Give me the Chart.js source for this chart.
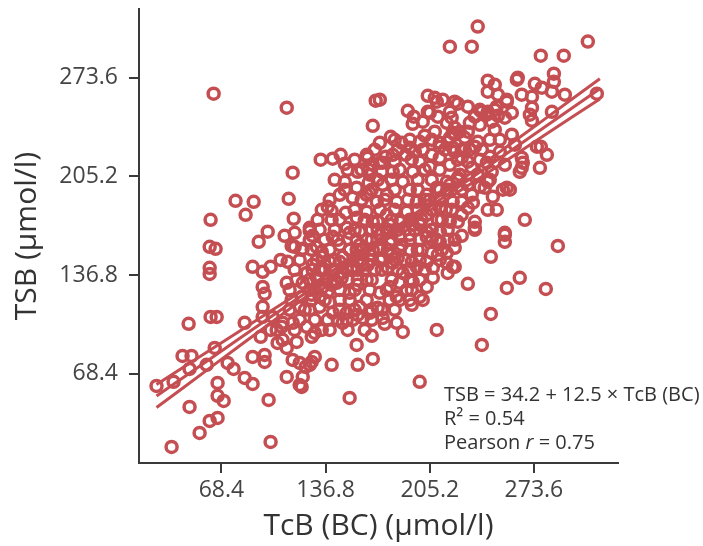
<!DOCTYPE html>
<html>
<head>
<meta charset="utf-8">
<script src="https://cdn.jsdelivr.net/npm/chart.js@4.4.1/dist/chart.umd.min.js"></script>
<style>
  html, body { margin: 0; padding: 0; background: #ffffff; }
  #wrap { width: 703px; height: 546px; }
</style>
</head>
<body>
<div id="wrap"><canvas id="c" width="703" height="546"></canvas></div>
<script>
// ---- data (µmol/l) ----
const tcb = [236.7,218.4,232.8,309.0,278.1,293.2,63.3,111.3,169.7,167.8,172.4,179.6,186.8,190.8,194.7,194.0,200.6,203.9,203.9,201.9,
133.6,141.5,146.7,149.4,115.2,77.7,89.6,84.3,112.6,61.3,115.9,98.8,92.9,109.9,116.5,126.4,128.3,138.2,140.8,140.8,
150.0,164.5,165.1,176.3,174.3,165.1,165.8,60.7,64.6,116.5,121.8,60.7,60.7,61.3,65.3,46.9,88.9,95.5,100.7,107.3,
111.9,131.0,134.3,128.3,111.3,95.5,96.8,95.5,95.5,83.7,42.9,48.8,47.5,64.0,58.7,72.5,76.4,83.7,88.9,65.9,
65.9,69.9,25.8,37.0,47.5,60.7,65.9,54.1,35.7,99.4,100.7,88.9,96.8,96.8,108.6,111.3,117.8,115.2,119.8,121.8,
111.3,119.8,127.7,129.7,126.4,140.8,152.6,157.9,167.8,157.2,167.1,175.6,183.5,187.5,198.6,148.0,139.5,127.7,124.4,115.2,
108.6,104.7,102.1,200.6,193.4,185.5,171.0,161.2,150.7,138.2,94.2,100.7,108.0,105.3,114.5,121.1,123.7,121.1,209.8,173.7,
157.9,132.9,129.7,254.5,254.5,289.3,245.3,226.2,221.6,221.6,230.2,255.8,264.3,281.4,245.3,239.4,234.8,210.5,208.5,213.7,
209.8,221.6,219.6,220.3,217.0,173.7,182.2,189.4,195.4,200.6,206.5,211.8,126.4,174.3,263.0,286.7,286.7,274.2,285.4,293.9,
243.3,247.9,243.3,249.9,265.6,272.3,272.3,270.9,272.3,285.4,255.8,259.1,254.5,247.9,243.3,239.4,234.8,230.2,223.6,231.5,
245.9,249.9,314.9,278.1,282.1,277.5,265.6,265.6,264.3,251.2,255.8,257.8,243.3,249.2,267.6,254.5,246.6,243.3,232.8,234.8,
226.2,230.2,236.7,226.2,221.6,234.8,242.7,134.9,146.1,141.5,152.6,163.8,172.4,178.9,185.5,192.1,203.2,211.8,216.4,220.3,
217.0,207.2,203.2,194.0,187.5,196.7,203.2,206.5,180.9,174.3,169.1,163.8,157.9,152.6,146.1,139.5,132.9,126.4,121.8,124.4,
131.0,137.5,144.1,148.0,141.5,154.6,161.2,167.8,157.2,148.0,172.4,178.9,183.5,174.3,165.8,159.2,150.7,141.5,126.4,119.8,
121.1,190.1,198.6,207.2,216.4,185.5,163.8,172.4,180.9,187.5,194.0,198.6,205.2,211.8,218.4,220.3,216.4,209.8,203.2,196.7,
190.1,183.5,177.0,170.4,163.8,157.2,150.7,159.2,167.8,177.0,185.5,194.0,203.2,211.8,220.3,218.4,211.8,203.2,177.0,165.8,
157.2,163.8,167.8,180.9,192.1,198.6,221.6,228.2,226.2,232.8,223.6,230.2,236.7,226.2,230.2,223.6,234.8,241.3,245.9,221.6,
238.1,244.6,233.5,253.2,275.5,266.3,244.6,208.5,205.2,218.4,238.1,255.8,262.4,278.8,238.1,242.7,249.2,224.9,216.4,218.4,
211.8,172.4,149.4,154.6,146.1,157.9,142.8,136.2,126.4,127.7,132.9,134.3,139.5,140.8,138.2,146.1,147.4,152.6,154.0,151.3,
159.2,160.5,157.9,165.8,164.5,167.1,172.4,173.7,171.0,178.9,180.2,177.6,186.8,184.2,192.1,193.4,198.6,199.9,197.3,205.2,
206.5,211.8,213.1,210.5,218.4,219.6,217.0,224.9,226.2,231.5,230.2,238.1,239.4,244.6,247.9,251.2,254.5,259.1,261.1];
const tsb = [309.0,295.1,295.1,298.6,288.9,288.9,262.5,252.8,257.7,240.3,228.5,232.7,228.5,250.7,246.6,241.7,243.1,261.1,250.0,233.4,
216.8,217.5,220.2,214.0,207.8,188.3,187.6,178.6,189.7,175.2,175.9,166.9,159.9,164.1,166.2,167.5,164.1,184.2,181.4,175.2,
180.0,218.2,209.8,218.8,214.7,200.8,193.9,156.5,155.1,156.5,155.1,141.9,137.7,107.9,107.9,103.1,142.6,139.1,142.6,147.4,
146.1,156.5,153.0,144.0,131.5,128.7,123.9,114.9,107.9,103.8,80.9,80.9,71.9,86.4,74.7,76.0,71.9,65.6,61.5,62.2,
53.2,49.7,60.1,62.9,45.5,35.8,37.9,27.5,17.8,50.4,21.3,80.2,81.6,76.7,92.0,86.4,90.6,78.1,76.0,66.3,
66.3,60.8,76.7,80.2,74.7,74.7,51.8,74.7,78.8,88.5,94.8,103.1,103.8,97.5,62.9,103.8,98.9,94.1,101.0,103.8,
103.8,98.9,107.9,119.7,116.3,119.7,114.2,107.2,105.9,105.9,94.1,98.9,101.0,89.9,157.1,154.4,73.3,59.4,98.9,112.8,
109.3,114.9,96.8,164.8,159.9,157.1,149.5,164.1,155.8,142.6,130.8,128.0,135.0,127.3,110.0,88.5,168.2,246.6,236.2,258.4,
257.0,257.0,245.9,235.5,229.2,208.4,215.4,220.2,222.3,223.7,220.2,225.8,169.6,199.4,273.6,276.4,270.8,269.4,263.9,261.8,
271.5,268.8,263.9,261.8,261.8,260.4,252.8,248.0,243.8,250.0,257.0,249.3,245.9,251.4,250.0,250.0,246.6,253.5,255.6,242.4,
243.1,247.3,262.5,225.8,220.2,211.2,218.2,211.2,208.4,222.3,197.4,196.0,182.1,182.1,175.2,166.2,191.1,201.5,192.5,173.8,
178.6,215.4,229.2,223.7,238.9,225.8,214.7,149.5,157.8,163.4,166.2,161.3,164.8,159.2,163.4,154.4,163.4,159.9,152.3,142.6,
138.4,135.0,128.7,132.2,138.4,142.6,146.1,152.3,145.4,148.8,140.5,133.6,130.1,124.6,119.7,118.3,121.8,126.6,131.5,138.4,
135.7,133.6,131.5,138.4,140.5,142.6,147.4,154.4,154.4,149.5,124.6,128.7,121.8,107.2,110.7,114.9,110.7,110.7,112.8,114.9,
121.8,126.6,121.8,141.9,145.4,131.5,220.2,214.7,208.4,201.5,208.4,215.4,211.9,218.2,213.3,225.1,201.5,197.4,192.5,187.6,
180.7,187.6,192.5,187.6,180.7,176.6,169.6,166.9,173.8,178.6,173.8,171.7,178.6,183.5,187.6,173.8,166.9,166.9,166.9,206.4,
197.4,192.5,213.3,220.2,225.1,229.2,234.1,232.0,218.2,211.2,204.3,199.4,206.4,187.6,183.5,173.8,169.6,197.4,208.4,222.3,
198.1,202.9,187.0,196.0,225.8,214.7,218.8,259.7,249.3,250.0,251.4,258.4,272.2,266.7,241.0,248.0,253.5,236.2,242.4,232.0,
228.5,258.4,201.5,190.4,192.5,208.4,168.2,161.3,133.6,123.2,140.5,128.0,146.1,130.1,125.3,146.1,135.0,154.4,140.5,133.6,
157.8,144.0,140.5,150.9,144.0,168.2,154.4,140.5,173.8,171.7,150.9,141.9,157.8,148.8,164.8,146.1,171.7,154.4,196.0,189.0,
161.3,196.0,175.2,150.9,199.4,182.1,161.3,206.4,196.0,223.7,236.2,216.8,223.7,230.6,237.6,230.6,213.3,234.1,227.2];

// dense core of the cloud around the fitted line
const tcbCore = [182.2,192.1,206.5,169.1,184.2,215.1,228.2,155.9,193.4,223.6,151.3,160.5,185.5,201.9,211.8,
142.8,171.0,180.2,197.3,206.5,223.6,149.4,167.1,182.2,192.1,217.0,139.5,160.5,175.6,190.8,201.9,211.8,
134.3,155.9,172.4,182.2,197.3,206.5,215.7,131.6,146.1,162.5,180.2,192.1,199.9,210.5,
132.9,155.9,171.0,184.2,195.4,206.5,217.0,126.4,144.8,157.2,167.1,180.2,192.1,198.6,209.8,221.6,
127.7,139.5,152.6,161.2,177.6,185.5,197.3,213.1,119.8,131.0,142.8,167.1,172.4,188.8,198.6,211.8,
116.5,128.3,136.2,150.7,162.5,184.2,192.1,201.9,117.8,131.6,142.8,157.9,167.1,180.2,192.1,198.6,
113.2,129.7,146.1,155.9,165.8,177.0,193.4,114.5,127.7,136.2,152.6,163.8,178.9,192.1,
113.2,123.1,146.1,155.9,167.1,182.2,119.8,129.7,144.8,154.6,167.1,116.5,134.3,151.3,162.5];
const tsbCore = [230.6,230.6,230.6,223.7,223.7,223.7,223.7,216.8,216.8,216.8,209.8,209.8,209.8,209.8,209.8,
202.9,202.9,202.9,202.9,202.9,202.9,196.0,196.0,196.0,196.0,196.0,189.0,189.0,189.0,189.0,189.0,189.0,
182.1,182.1,182.1,182.1,182.1,182.1,182.1,175.2,175.2,175.2,175.2,175.2,175.2,175.2,
168.2,168.2,168.2,168.2,168.2,168.2,168.2,161.3,161.3,161.3,161.3,161.3,161.3,161.3,161.3,161.3,
154.4,154.4,154.4,154.4,154.4,154.4,154.4,154.4,147.4,147.4,147.4,147.4,147.4,147.4,147.4,147.4,
140.5,140.5,140.5,140.5,140.5,140.5,140.5,140.5,133.6,133.6,133.6,133.6,133.6,133.6,133.6,133.6,
126.6,126.6,126.6,126.6,126.6,126.6,126.6,119.7,119.7,119.7,119.7,119.7,119.7,119.7,
112.8,112.8,112.8,112.8,112.8,112.8,105.9,105.9,105.9,105.9,105.9,98.9,98.9,98.9,98.9];

// regression line and its confidence band, read at these TcB values
const fitX    = [25.8, 60, 100, 140, 170, 200, 240, 280, 316.9];
const fitY    = [53.1, 78.1, 107.3, 136.5, 158.5, 180.4, 209.6, 238.9, 265.9];
const ciUpper = [61.1, 84.3, 111.4, 138.9, 160.5, 182.8, 213.7, 244.4, 272.9];
const ciLower = [45.1, 71.9, 103.2, 134.1, 156.5, 178.0, 205.5, 233.4, 258.9];

const tickValues = [68.4, 136.8, 205.2, 273.6];
const xRange = [14.3, 328.8];
const yRange = [6.7, 321.2];
const xTitle = 'TcB (BC) (µmol/l)';
const yTitle = 'TSB (µmol/l)';
const statLine1 = 'TSB = 34.2 + 12.5 × TcB (BC)';
const statLine2 = 'R² = 0.54';
const statLine3 = ['Pearson ', 'r', ' = 0.75'];

// ---- styling ----
const RED = '#c44e52';
const AXIS = '#3a3a3a';
const FONT = '"Open Sans", sans-serif';
Chart.defaults.font.family = FONT;

function pts(xs, ys) { return xs.map((x, i) => ({x: x, y: ys[i]})); }

const statsPlugin = {
  id: 'stats',
  afterDraw(chart) {
    const ctx = chart.ctx;
    const a = chart.chartArea;
    const x0 = a.right - 174;
    ctx.save();
    ctx.fillStyle = '#333333';
    ctx.textBaseline = 'middle';
    ctx.textAlign = 'left';
    ctx.font = '20px ' + FONT;
    ctx.fillText(statLine1, x0, 395);
    ctx.fillText(statLine2, x0, 419);
    let x = x0;
    ctx.fillText(statLine3[0], x, 443);
    x += ctx.measureText(statLine3[0]).width;
    ctx.font = 'italic 20px ' + FONT;
    ctx.fillText(statLine3[1], x, 443);
    x += ctx.measureText(statLine3[1]).width;
    ctx.font = '20px ' + FONT;
    ctx.fillText(statLine3[2], x, 443);
    ctx.restore();
  }
};

const lineDs = (data) => ({
  type: 'scatter', data: data, showLine: true, pointRadius: 0,
  borderColor: RED, borderWidth: 3, fill: false, tension: 0.3, order: 0
});

new Chart(document.getElementById('c'), {
  type: 'scatter',
  data: {
    datasets: [
      lineDs(pts(fitX, ciUpper)),
      lineDs(pts(fitX, fitY)),
      lineDs(pts(fitX, ciLower)),
      {
        data: pts(tcb.concat(tcbCore), tsb.concat(tsbCore)),
        pointRadius: 5.5,
        pointBorderWidth: 3.5,
        pointBackgroundColor: 'rgba(0,0,0,0)',
        pointBorderColor: RED,
        order: 1
      }
    ]
  },
  options: {
    responsive: false,
    animation: false,
    events: [],
    layout: { padding: { top: 9, right: 85, left: 0, bottom: 0 } },
    plugins: { legend: { display: false }, tooltip: { enabled: false } },
    scales: {
      x: {
        type: 'linear', min: xRange[0], max: xRange[1],
        afterBuildTicks: s => { s.ticks = tickValues.map(v => ({value: v})); },
        afterFit: s => { s.height = 83; s.paddingLeft = 0; s.paddingRight = 0; },
        ticks: { callback: v => v.toFixed(1), color: '#444444', font: { size: 23 }, padding: 4 },
        grid: { drawOnChartArea: false, drawTicks: true, tickLength: 10, color: AXIS, lineWidth: 2 },
        border: { display: true, color: AXIS, width: 2 },
        title: { display: true, text: xTitle, color: '#333333', font: { size: 30 }, padding: { top: 0, bottom: 2 } }
      },
      y: {
        type: 'linear', min: yRange[0], max: yRange[1],
        afterBuildTicks: s => { s.ticks = tickValues.map(v => ({value: v})); },
        afterFit: s => { s.width = 139; s.paddingTop = 0; s.paddingBottom = 0; },
        ticks: { callback: v => v.toFixed(1), color: '#444444', font: { size: 23 }, padding: 11 },
        grid: { drawOnChartArea: false, drawTicks: true, tickLength: 10, color: AXIS, lineWidth: 2 },
        border: { display: true, color: AXIS, width: 2 },
        title: { display: true, text: yTitle, color: '#333333', font: { size: 30 }, padding: { top: 9, bottom: 0 } }
      }
    }
  },
  plugins: [statsPlugin]
});
</script>
</body>
</html>
